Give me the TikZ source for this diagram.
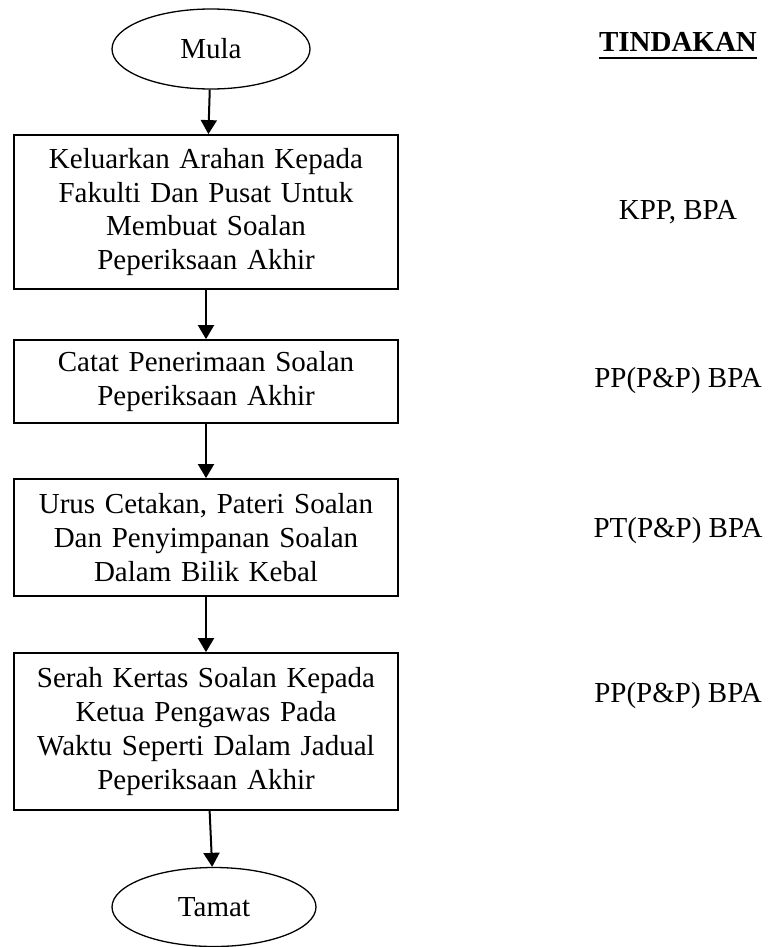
\documentclass[tikz,border=0pt]{standalone}
\usepackage{fontspec}
\setmainfont{Liberation Serif}
\usetikzlibrary{shapes.geometric, arrows.meta}
\tikzstyle{startstop} = [ellipse, minimum width=99pt, minimum height=40pt, text centered, inner sep=0pt, draw=black, line width=0.65pt]
\tikzstyle{process} = [rectangle, minimum width=192pt, text width=185pt, align=center, draw=black, line width=0.9pt]
\tikzstyle{role} = [text centered, inner sep=0pt]
\tikzstyle{arrow} = [line width=1pt, -{Triangle[width=8pt,length=7pt]}]

\begin{document}
\begin{tikzpicture}[font=\fontsize{14.5}{16.85}\selectfont, node distance=80pt]
		\useasboundingbox (0,0) rectangle (385pt,-473.5pt);
		\node (start) [startstop] at (105.5pt,-24.5pt) {Mula};
		\node (keluar) [process, minimum height=77pt, below of=start, xshift=-2.5pt, yshift=-1.5pt] {Keluarkan Arahan Kepada\\Fakulti Dan Pusat Untuk\\Membuat Soalan\\Peperiksaan Akhir};
		\node (catat) [process, minimum height=41.5pt, below of=keluar, yshift=-4.75pt] {Catat Penerimaan Soalan\\Peperiksaan Akhir};
		\node (urus) [process, minimum height=58.5pt, below of=catat, yshift=2pt] {Urus Cetakan, Pateri Soalan\\Dan Penyimpanan Soalan\\Dalam Bilik Kebal};
		\node (serah) [process, minimum height=78.5pt, below of=urus, yshift=-17pt] {Serah Kertas Soalan Kepada\\Ketua Pengawas Pada\\Waktu Seperti Dalam Jadual\\Peperiksaan Akhir};
		\node (stop) [startstop, minimum width=102pt, minimum height=39.5pt, below of=serah, xshift=4pt, yshift=-7.75pt] {Tamat};

		% lajur tindakan
		\node (tindakan) [role] at (339pt,-21pt) {\textbf{TINDAKAN}};
		\draw [line width=1pt] ([yshift=-3.2pt]tindakan.base west) -- ([yshift=-3.2pt]tindakan.base east);
		\node (act1) [role, right of=keluar, node distance=236pt] {KPP, BPA};
		\node (act2) [role, right of=catat, node distance=236pt, yshift=0.25pt] {PP(P\&P) BPA};
		\node (act3) [role, right of=urus, node distance=236pt, yshift=3.25pt] {PT(P\&P) BPA};
		\node (act4) [role, right of=serah, node distance=236pt, yshift=17.75pt] {PP(P\&P) BPA};

		\draw [arrow](start) -- (keluar);
		\draw [arrow](keluar) -- (catat);
		\draw [arrow](catat) -- (urus);
		\draw [arrow](urus) -- (serah);
		\draw [arrow](serah) -- (stop);
	\end{tikzpicture}
\end{document}
